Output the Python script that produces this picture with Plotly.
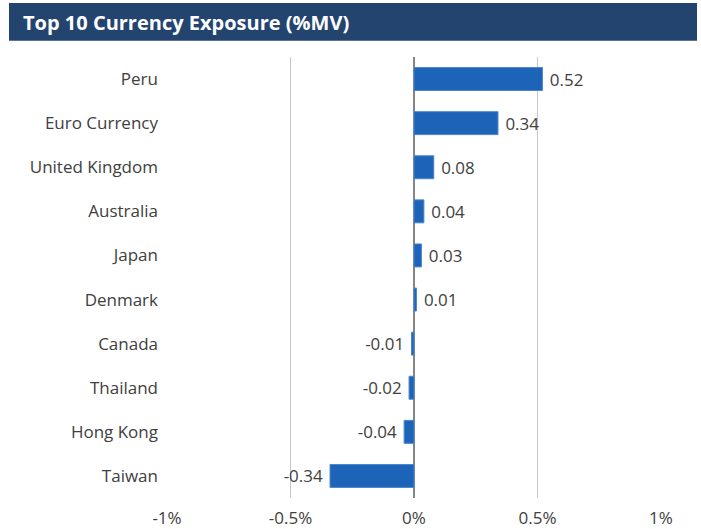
import plotly.graph_objects as go

categories = ["Peru", "Euro Currency", "United Kingdom", "Australia", "Japan",
              "Denmark", "Canada", "Thailand", "Hong Kong", "Taiwan"]
values = [0.52, 0.34, 0.08, 0.04, 0.03, 0.01, -0.01, -0.02, -0.04, -0.34]
tick_vals = [-1, -0.5, 0, 0.5, 1]
tick_text = ["-1%", "-0.5%", "0%", "0.5%", "1%"]
title_text = "Top 10 Currency Exposure (%MV)"

FONT = "Open Sans"
W, H = 701, 529
L, R, T, B = 167, 40, 57, 31
pw = W - L - R
ph = H - T - B

def px_x(px):
    return (px - L) / pw

def px_y(py):
    return (H - B - py) / ph

NB = "\u00a0"
labels = [(NB + f"{v:.2f}") if v >= 0 else (f"{v:.2f}" + NB) for v in values]

fig = go.Figure()
fig.add_trace(go.Bar(
    x=values, y=categories, orientation="h",
    marker=dict(color="#1d63b8", line=dict(color="#4a86cc", width=1)),
    text=labels, textposition="outside",
    textfont=dict(family=FONT, size=17, color="#404040"),
    cliponaxis=False, width=0.52,
))

fig.update_layout(
    width=W, height=H,
    margin=dict(l=L, r=R, t=T, b=B, autoexpand=False),
    paper_bgcolor="white", plot_bgcolor="white",
    showlegend=False,
    xaxis=dict(range=[-1, 1], tickvals=tick_vals, ticktext=tick_text,
               showgrid=True, gridcolor="#c8c8c8", gridwidth=1,
               zeroline=True, zerolinecolor="#858585", zerolinewidth=2,
               showline=False, ticks="", fixedrange=True, automargin=False,
               ticklabelstandoff=8,
               tickfont=dict(family=FONT, size=17, color="#404040")),
    yaxis=dict(autorange="reversed", showgrid=False, zeroline=False,
               showline=False, ticks="", ticklabelstandoff=8, automargin=False,
               fixedrange=True,
               tickfont=dict(family=FONT, size=17, color="#404040")),
    shapes=[dict(type="rect", xref="paper", yref="paper",
                 x0=px_x(9), x1=px_x(697), y0=px_y(40.7), y1=px_y(3),
                 fillcolor="#244470", line=dict(width=0), layer="below")],
    annotations=[dict(text=f"<b>{title_text}</b>", xref="paper", yref="paper",
                      x=px_x(21), y=px_y(22), xanchor="left", yanchor="middle",
                      showarrow=False,
                      font=dict(family=FONT, size=20, color="white"))],
)

fig.write_html("out.html",
               config={"displayModeBar": False},
               post_script="document.body.style.margin='0';document.body.style.overflow='hidden';")
